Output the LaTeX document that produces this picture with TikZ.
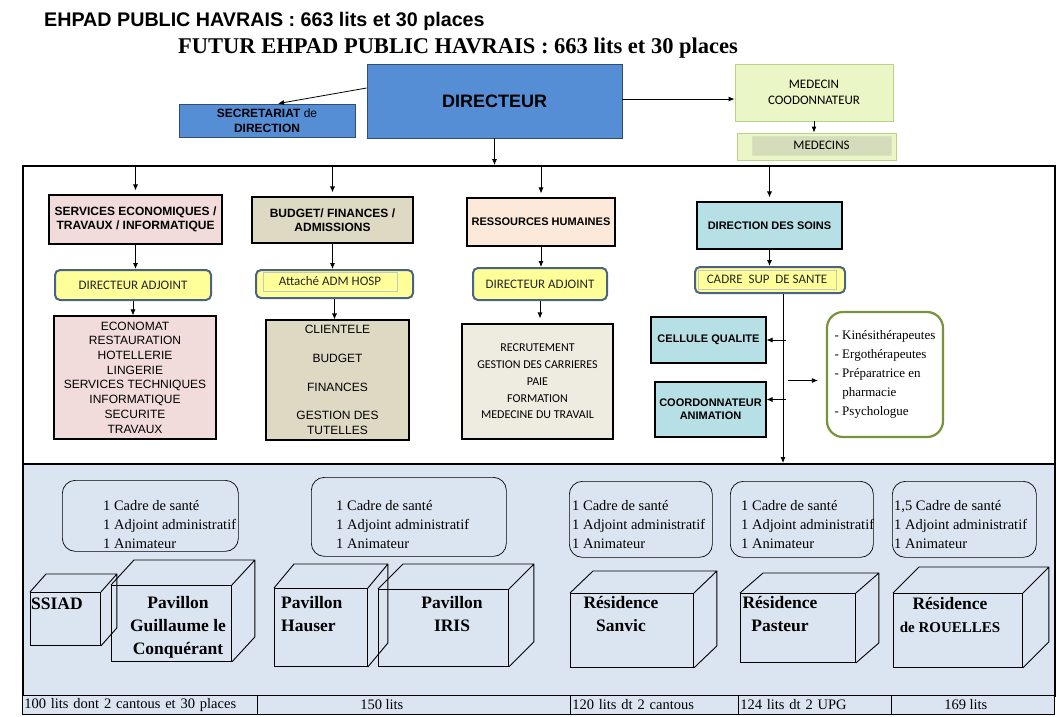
\documentclass[tikz,border=0pt]{standalone}
\usepackage{fontspec}
\setmainfont{Liberation Serif}
\setsansfont{Liberation Sans}
\newfontfamily\calibri{Carlito}
\usetikzlibrary{arrows.meta,positioning}

\definecolor{dirblue}{HTML}{558ED5}
\definecolor{medgreen}{HTML}{EBF6C6}
\definecolor{medline}{HTML}{B9D28A}
\definecolor{medgrey}{HTML}{D5DCBC}
\definecolor{ecopink}{HTML}{F2DCDB}
\definecolor{budkhaki}{HTML}{DDD9C3}
\definecolor{rhpeach}{HTML}{FDE9D9}
\definecolor{rhbeige}{HTML}{EEECE1}
\definecolor{soincyan}{HTML}{B6DFE6}
\definecolor{adjyellow}{HTML}{FFFF99}
\definecolor{adjline}{HTML}{4A6382}
\definecolor{paraline}{HTML}{77933C}
\definecolor{siteblue}{HTML}{DBE5F1}

\begin{document}
\begin{tikzpicture}[x=1pt,y=-1pt,
  box/.style={draw,line width=1.1pt,inner sep=2pt,align=center},
  head/.style={box,font=\sffamily\bfseries\fontsize{11}{13}\selectfont},
  adj/.style={draw=adjline,line width=2pt,rounded corners=5pt,fill=adjyellow,
    font=\calibri\fontsize{13}{15}\selectfont,text=black!85},
  list/.style={box,font=\sffamily\fontsize{12}{14.7}\selectfont},
  staff/.style={draw,line width=0.7pt,rounded corners=13pt,anchor=north west},
  crew/.style={align=left,anchor=west,inner sep=0pt,font=\fontsize{14.5}{19}\selectfont},
  face/.style={draw,line width=0.9pt,anchor=north west},
  wall/.style={line width=0.9pt},
  bname/.style={align=center,inner sep=0pt,font=\bfseries\fontsize{17.5}{23}\selectfont},
  cell/.style={draw,line width=0.6pt,fill=siteblue,minimum height=19pt,inner sep=2pt,
    anchor=north west,font=\fontsize{14.5}{16}\selectfont},
  link/.style={line width=0.8pt,-{Latex[length=6pt,width=5pt]}}
]
  \fill[white] (0,0) rectangle (1060,716);
  \useasboundingbox (0,0) rectangle (1060,716);

  % titles
  \node[anchor=base west,inner sep=0pt,font=\sffamily\bfseries\fontsize{19.7}{22}\selectfont]
    (ttl) at (44,26) {EHPAD PUBLIC HAVRAIS : 663 lits et 30 places};
  \node[anchor=base west,inner sep=0pt,font=\bfseries\fontsize{22.5}{24}\selectfont]
    (fut) at (178,53) {FUTUR EHPAD PUBLIC HAVRAIS : 663 lits et 30 places};

  % frames
  \node[draw,line width=2.2pt,fill=siteblue,minimum width=1032,minimum height=232,anchor=north west]
    (site) at (22,463) {};
  \node[draw,line width=2.2pt,minimum width=1032,minimum height=298,anchor=north west]
    (top) at (22,165) {};

  % direction
  \node[box,fill=dirblue,draw=dirblue!55!black,line width=0.8pt,minimum width=255,minimum height=74,
    font=\sffamily\bfseries\fontsize{18}{20}\selectfont] (dir) at (494.5,101) {DIRECTEUR};
  \node[box,fill=dirblue,draw=dirblue!55!black,line width=0.8pt,minimum width=176,minimum height=33,
    font=\sffamily\fontsize{12}{15}\selectfont] (sec) at (267,120.5) {\textbf{SECRETARIAT} de\\\textbf{DIRECTION}};
  \node[box,fill=medgreen,draw=medline,line width=0.8pt,minimum width=158,minimum height=57,
    font=\calibri\fontsize{13}{16}\selectfont] (medc) at (814,92.5) {MEDECIN\\COODONNATEUR};
  \node[box,fill=medgreen,draw=medline,line width=0.8pt,minimum width=159,minimum height=27] (meds) at (816.5,146.5) {};
  \node[fill=medgrey,draw=medline!60,line width=0.5pt,minimum width=139,minimum height=19,inner sep=0pt,
    font=\calibri\fontsize{13}{15}\selectfont] (medsin) at (821.5,145.5) {MEDECINS};

  \draw[link] ([yshift=13pt]dir.west) -- ([xshift=11pt]sec.north);
  \draw[link] (dir.east |- 0,99) -- (medc.west |- 0,99);
  \draw[link] (medc.south) -- (medc.south |- meds.north);
  \draw[link] (dir.south) -- (dir.south |- top.north);

  % services
  \node[head,fill=ecopink,minimum width=173,minimum height=49,font=\sffamily\bfseries\fontsize{12}{14}\selectfont]
    (svc) at (135.5,219.5) {SERVICES ECONOMIQUES /\\TRAVAUX / INFORMATIQUE};
  \node[adj,minimum width=156,minimum height=30] (adjA) at (133,285) {DIRECTEUR ADJOINT};
  \node[list,fill=ecopink,minimum width=162,minimum height=123] (eco) at (135,377.5)
    {ECONOMAT\\RESTAURATION\\HOTELLERIE\\LINGERIE\\SERVICES TECHNIQUES\\INFORMATIQUE\\SECURITE\\TRAVAUX};

  \node[head,fill=budkhaki,minimum width=161,minimum height=46,font=\sffamily\bfseries\fontsize{12}{14}\selectfont]
    (bud) at (332.5,220) {BUDGET/ FINANCES /\\ADMISSIONS};
  \node[adj,minimum width=157,minimum height=28] (adjB) at (334.5,284) {};
  \node[draw=gray!45,line width=0.5pt,minimum width=134,minimum height=19,inner sep=0pt,
    font=\calibri\fontsize{13}{15}\selectfont,text=black!85] (adjBin) at (330,281.5) {Attaché ADM HOSP};
  \node[list,fill=budkhaki,minimum width=143,minimum height=120] (cli) at (337.5,380)
    {CLIENTELE\\[14pt]BUDGET\\[14pt]FINANCES\\[14pt]GESTION DES\\TUTELLES};

  \node[head,fill=rhpeach,minimum width=148,minimum height=48] (rh) at (541,222) {RESSOURCES HUMAINES};
  \node[adj,minimum width=134,minimum height=32] (adjC) at (540,284) {DIRECTEUR ADJOINT};
  \node[box,fill=rhbeige,minimum width=151,minimum height=115,font=\calibri\fontsize{12}{16.7}\selectfont]
    (recr) at (537.5,381.5) {RECRUTEMENT\\GESTION DES CARRIERES\\PAIE\\FORMATION\\MEDECINE DU TRAVAIL};

  \node[head,fill=soincyan,minimum width=145,minimum height=47] (soins) at (769.5,225.5) {DIRECTION DES SOINS};
  \node[adj,minimum width=150,minimum height=26] (cadre) at (770,280) {};
  \node[draw=gray!45,line width=0.5pt,minimum width=138,minimum height=19,inner sep=0pt,
    font=\calibri\fontsize{13}{15}\selectfont,text=black!85] (cadrein) at (767,279.5) {CADRE\ \ SUP\ \ DE SANTE};
  \node[head,fill=soincyan,minimum width=115,minimum height=46] (qual) at (708.5,340) {CELLULE QUALITE};
  \node[head,fill=soincyan,minimum width=111,minimum height=55] (anim) at (710.5,409.5) {COORDONNATEUR\\ANIMATION};
  \node[draw=paraline,line width=2.2pt,rounded corners=16pt,minimum width=116,minimum height=125,
    align=left,font=\fontsize{13}{19}\selectfont] (para) at (885,374.5)
    {- Kinésithérapeutes\\- Ergothérapeutes\\- Préparatrice en\\\hspace*{7.6pt}pharmacie\\- Psychologue};

  \foreach \n in {svc,bud,rh,soins}
    \draw[link] (\n.north |- top.north) -- ([yshift=4pt]\n.north);
  \draw[link] (svc.south) -- (svc.south |- adjA.north);
  \draw[link] (bud.south) -- (bud.south |- adjB.north);
  \draw[link] (rh.south) -- (rh.south |- adjC.north);
  \draw[link] (soins.south) -- (soins.south |- cadre.north);
  \draw[link] (adjA.south) -- (adjA.south |- eco.north);
  \draw[link] (adjB.south) -- (adjB.south |- cli.north);
  \draw[link] (adjC.south) -- ([yshift=5pt]adjC.south |- recr.north);

  \coordinate (trunk) at ([xshift=13pt]cadre.south);
  \coordinate (animin) at ([yshift=10pt]anim.east);
  \coordinate (parain) at ([xshift=-8pt,yshift=-6pt]para.west);
  \draw[link] (trunk) -- (trunk |- site.north);
  \draw[link] (trunk |- qual.east) ++(3,0) -- (qual.east);
  \draw[link] (trunk |- animin) ++(3,0) -- (animin);
  \draw[link] (trunk |- parain) ++(5,0) -- (parain);

  % sites
  \node[staff,minimum width=176,minimum height=71] (sA) at (62,480) {};
  \node[staff,minimum width=195,minimum height=79] (sB) at (311,477) {};
  \node[staff,minimum width=143,minimum height=76] (sC) at (569,481) {};
  \node[staff,minimum width=143,minimum height=76] (sD) at (730,481) {};
  \node[staff,minimum width=144,minimum height=76] (sE) at (892,481) {};
  \node[crew] (cA) at (103,525) {1 Cadre de santé\\1 Adjoint administratif\\1 Animateur};
  \node[crew] (cB) at (336,525) {1 Cadre de santé\\1 Adjoint administratif\\1 Animateur};
  \node[crew] (cC) at (572,525) {1 Cadre de santé\\1 Adjoint administratif\\1 Animateur};
  \node[crew] (cD) at (741,525) {1 Cadre de santé\\1 Adjoint administratif\\1 Animateur};
  \node[crew] (cE) at (894,525) {1,5 Cadre de santé\\1 Adjoint administratif\\1 Animateur};

  % buildings
  \node[face,minimum width=70,minimum height=53] (fA) at (30,592) {};
  \draw[wall] (fA.north west) -- ++(16,-18) -| ([shift={(16,-18)}]fA.south east) -- (fA.south east)
    (fA.north east) -- ++(16,-18);
  \node[face,minimum width=120,minimum height=76] (fB) at (111,585) {};
  \draw[wall] (fB.north west) -- ++(23,-25) -| ([shift={(23,-25)}]fB.south east) -- (fB.south east)
    (fB.north east) -- ++(23,-25);
  \node[face,minimum width=93,minimum height=78] (fC) at (274,588) {};
  \draw[wall] (fC.north west) -- ++(20,-24) -| ([shift={(20,-24)}]fC.south east) -- (fC.south east)
    (fC.north east) -- ++(20,-24);
  \node[face,minimum width=130,minimum height=77] (fD) at (378,589) {};
  \draw[wall] (fD.north west) -- ++(25,-25) -| ([shift={(25,-25)}]fD.south east) -- (fD.south east)
    (fD.north east) -- ++(25,-25);
  \node[face,minimum width=123,minimum height=74] (fE) at (570,593) {};
  \draw[wall] (fE.north west) -- ++(23,-22) -| ([shift={(23,-22)}]fE.south east) -- (fE.south east)
    (fE.north east) -- ++(23,-22);
  \node[face,minimum width=115,minimum height=69] (fF) at (740,593) {};
  \draw[wall] (fF.north west) -- ++(23,-20) -| ([shift={(23,-20)}]fF.south east) -- (fF.south east)
    (fF.north east) -- ++(23,-20);
  \node[face,minimum width=129,minimum height=74] (fG) at (893,593) {};
  \draw[wall] (fG.north west) -- ++(26,-26) -| ([shift={(26,-26)}]fG.south east) -- (fG.south east)
    (fG.north east) -- ++(26,-26);

  \node[bname,anchor=west] (nA) at (31,604) {SSIAD};
  \node[bname] (nB) at (178,627) {Pavillon\\Guillaume le\\Conquérant};
  \node[bname,align=left,anchor=west] (nC) at (281,614) {Pavillon\\Hauser};
  \node[bname] (nD) at (452,614) {Pavillon\\IRIS};
  \node[bname] (nE) at (621,614) {Résidence\\Sanvic};
  \node[bname] (nF) at (780,614) {Résidence\\Pasteur};
  \node[bname] (nG) at (950,615) {Résidence\\{\fontsize{15}{20}\selectfont de ROUELLES}};

  % capacities
  \node[cell,text width=231,align=left] (lA) at (22,695) {100 lits dont 2 cantous et 30 places};
  \node[cell,minimum width=313] (lB) at (257,695) {\hspace*{-64pt}150 lits};
  \node[cell,text width=164,align=left] (lC) at (570,695) {120 lits dt 2 cantous};
  \node[cell,text width=149,align=left] (lD) at (738,695) {124 lits dt 2 UPG};
  \node[cell,minimum width=163] (lE) at (891,695) {\hspace*{-14pt}169 lits};
\end{tikzpicture}
\end{document}
